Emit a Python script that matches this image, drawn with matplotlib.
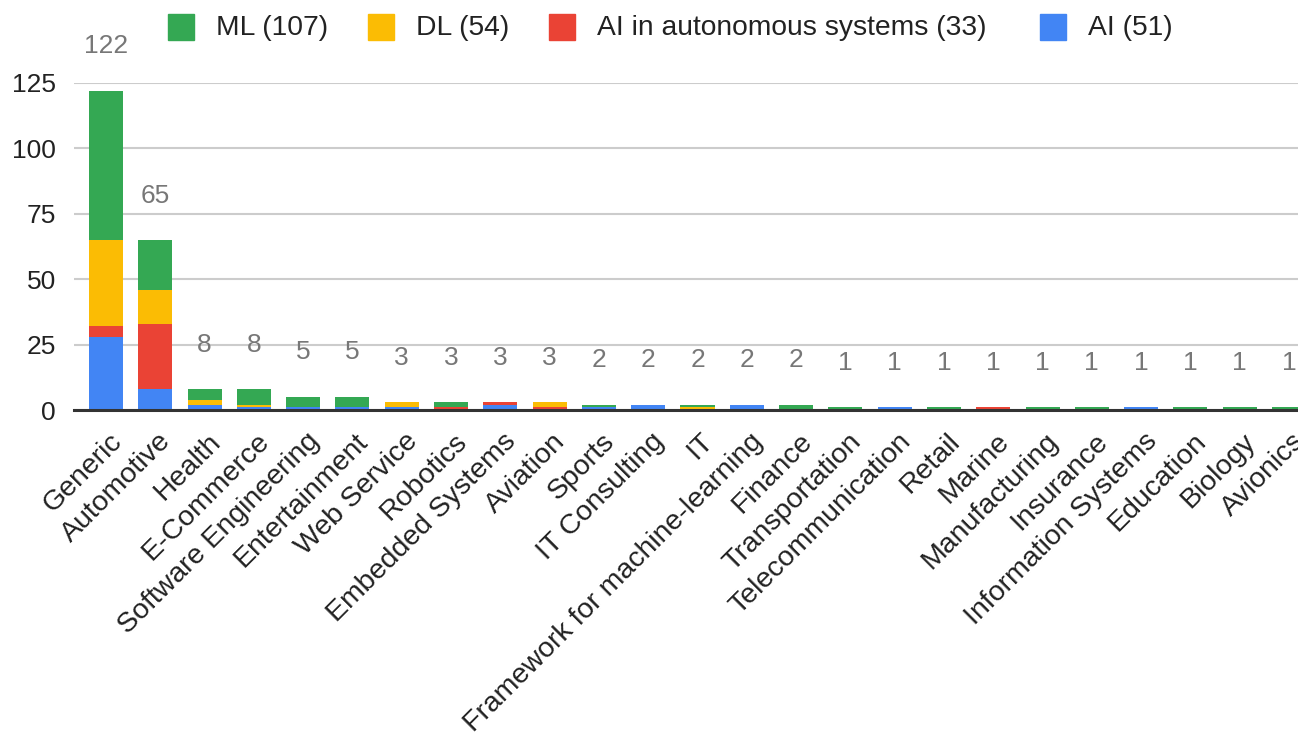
import matplotlib.pyplot as plt
import numpy as np
from matplotlib.patches import Rectangle

plt.rcParams['font.family'] = ['Liberation Sans', 'DejaVu Sans']

categories = ['Generic', 'Automotive', 'Health', 'E-Commerce', 'Software Engineering',
              'Entertainment', 'Web Service', 'Robotics', 'Embedded Systems', 'Aviation',
              'Sports', 'IT Consulting', 'IT', 'Framework for machine-learning', 'Finance',
              'Transportation', 'Telecommunication', 'Retail', 'Marine', 'Manufacturing',
              'Insurance', 'Information Systems', 'Education', 'Biology', 'Avionics']
ai = [28, 8, 2, 1, 1, 1, 1, 0, 2, 0, 1, 2, 0, 2, 0, 0, 1, 0, 0, 0, 0, 1, 0, 0, 0]
ai_auto = [4, 25, 0, 0, 0, 0, 0, 1, 1, 1, 0, 0, 0, 0, 0, 0, 0, 0, 1, 0, 0, 0, 0, 0, 0]
dl = [33, 13, 2, 1, 0, 0, 2, 0, 0, 2, 0, 0, 1, 0, 0, 0, 0, 0, 0, 0, 0, 0, 0, 0, 0]
ml = [57, 19, 4, 6, 4, 4, 0, 2, 0, 0, 1, 0, 1, 0, 2, 1, 0, 1, 0, 1, 1, 0, 1, 1, 1]

series = [
    ('AI', ai, '#4285F4'),
    ('AI in autonomous systems', ai_auto, '#EA4335'),
    ('DL', dl, '#FBBC04'),
    ('ML', ml, '#34A853'),
]

W, H = 1298, 741
fig = plt.figure(figsize=(W / 100, H / 100), dpi=100)
ax = fig.add_axes([74 / W, (H - 410) / H, 1247 / W, 327 / H])

x = np.arange(len(categories))
bottom = np.zeros(len(categories))
for name, vals, color in series:
    vals = np.array(vals)
    ax.bar(x, vals, 0.69, bottom=bottom, color=color, zorder=3)
    bottom += vals

# totals above each stack
for xi, tot in zip(x, bottom):
    ax.annotate(f'{int(tot)}', (xi, tot), xytext=(0, 32), textcoords='offset points',
                ha='center', va='center', fontsize=19, color='#777777',
                clip_on=False, annotation_clip=False)

ax.set_xlim(-0.65, 24.65)
ax.set_ylim(0, 125)
ax.set_yticks([0, 25, 50, 75, 100, 125])
ax.yaxis.grid(True, color='#cccccc', linewidth=1.5, zorder=0)
ax.axhline(0, color='#333333', linewidth=2.2, zorder=4, clip_on=False)
for s in ax.spines.values():
    s.set_visible(False)
ax.tick_params(axis='y', length=0, pad=13, labelsize=19, labelcolor='#222222')
ax.tick_params(axis='x', length=0, pad=14, labelsize=20.5, labelcolor='#222222')
ax.set_xticks(x)
ax.set_xticklabels(categories, rotation=45, ha='right', va='center',
                   rotation_mode='anchor')
for lbl in ax.get_xticklabels():
    lbl.set_transform(lbl.get_transform() + plt.matplotlib.transforms.ScaledTranslation(
        12 / 100, -8 / 100, fig.dpi_scale_trans))

# legend across the top
legend_items = [('ML', ml, '#34A853', 168), ('DL', dl, '#FBBC04', 368),
                ('AI in autonomous systems', ai_auto, '#EA4335', 549),
                ('AI', ai, '#4285F4', 1040)]
for name, vals, color, px in legend_items:
    fig.add_artist(Rectangle((px / W, (H - 40) / H), 26 / W, 26 / H,
                             transform=fig.transFigure, color=color))
    fig.text((px + 48) / W, (H - 28) / H, f'{name} ({sum(vals)})', fontsize=20.3,
             color='#222222', ha='left', va='center')

fig.savefig('out.png', dpi=100)
